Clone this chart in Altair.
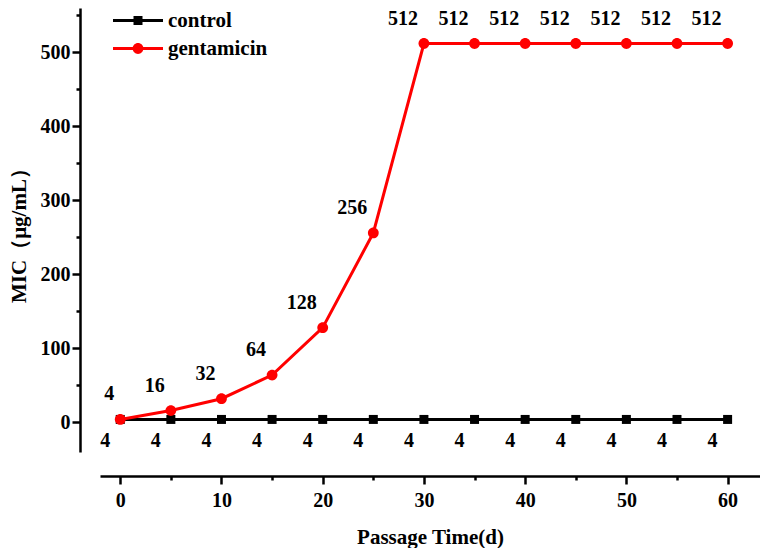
import altair as alt
import pandas as pd

# ---- data ----
days = [0, 5, 10, 15, 20, 25, 30, 35, 40, 45, 50, 55, 60]
control = [4, 4, 4, 4, 4, 4, 4, 4, 4, 4, 4, 4, 4]
gentamicin = [4, 16, 32, 64, 128, 256, 512, 512, 512, 512, 512, 512, 512]
series_names = ["control", "gentamicin"]
colors = ["#000000", "#ff0000"]
x_ticks = [0, 5, 10, 15, 20, 25, 30, 35, 40, 45, 50, 55, 60]
y_ticks = [0, 50, 100, 150, 200, 250, 300, 350, 400, 450, 500, 550]

rows = []
for d, c, g in zip(days, control, gentamicin):
    rows.append({"day": d, "mic": c, "series": "control", "series_line": "control"})
    rows.append({"day": d, "mic": g, "series": "gentamicin", "series_line": "gentamicin"})
df = pd.DataFrame(rows)

FONT = "Liberation Serif"
CIRCLE = "M1.2,0A1.2,1.2,0,1,1,-1.2,0A1.2,1.2,0,1,1,1.2,0Z"

x_enc = alt.X(
    "day:Q",
    scale=alt.Scale(domain=[-2, 63.2], nice=False, zero=False),
    axis=alt.Axis(
        values=x_ticks,
        labelExpr="datum.value % 10 == 0 ? datum.label : ''",
        offset=24,
        tickSize={"condition": {"test": "datum.value % 10 == 0", "value": 8}, "value": 4},
        labelPadding=6,
        titlePadding=16,
        title="Passage Time(d)",
        grid=False,
    ),
)
y_enc = alt.Y(
    "mic:Q",
    scale=alt.Scale(domain=[-40, 560], nice=False, zero=False),
    axis=alt.Axis(
        values=y_ticks,
        labelExpr="datum.value % 100 == 0 ? datum.label : ''",
        offset=20,
        tickSize={"condition": {"test": "datum.value % 100 == 0", "value": 8}, "value": 4},
        labelPadding=2,
        titlePadding=11,
        title="MIC（μg/mL）",
        grid=False,
    ),
)

legend_common = dict(
    orient="none",
    legendX=27.5,
    legendY=2,
    title=None,
    padding=0,
    rowPadding=6,
    labelFont=FONT,
    labelFontSize=21,
    labelFontWeight="bold",
    labelColor="#000000",
)

lines = alt.Chart(df).mark_line(strokeWidth=3).encode(
    x=x_enc,
    y=y_enc,
    stroke=alt.Stroke(
        "series_line:N",
        scale=alt.Scale(range=colors),
        legend=alt.Legend(
            symbolType="M-5,0H5",
            symbolSize=100,
            symbolStrokeWidth=3,
            labelOffset=19.5,
            **legend_common,
        ),
    ),
)

pts_legend = alt.Legend(
    symbolSize=81,
    symbolStrokeWidth=0,
    labelExpr="''",
    **legend_common,
)
points = alt.Chart(df).mark_point(filled=True, size=81, opacity=1).encode(
    x=x_enc,
    y=y_enc,
    fill=alt.Fill("series:N", scale=alt.Scale(range=colors), legend=pts_legend),
    shape=alt.Shape("series:N", scale=alt.Scale(range=["square", CIRCLE]), legend=pts_legend),
)

gen_labels = alt.Chart(df).transform_filter(
    alt.datum.series == "gentamicin"
).mark_text(
    font=FONT, fontSize=20, fontWeight="bold", align="right", baseline="middle",
    dx=-6, dy=-25, color="#000000",
).encode(x=x_enc, y=y_enc, text=alt.Text("mic:Q", format="d"))

ctl_labels = alt.Chart(df).transform_filter(
    alt.datum.series == "control"
).mark_text(
    font=FONT, fontSize=20, fontWeight="bold", align="right", baseline="middle",
    dx=-10, dy=22, color="#000000",
).encode(x=x_enc, y=y_enc, text=alt.Text("mic:Q", format="d"))

chart = alt.layer(lines, points, gen_labels, ctl_labels).properties(
    width=660,
    height=444,
    padding={"left": 0, "top": 0, "right": 0, "bottom": 1},
    background="#ffffff",
).configure_view(stroke=None).configure_axis(
    domainColor="#000000",
    domainWidth=2.5,
    tickColor="#000000",
    tickWidth=2.5,
    labelFont=FONT,
    labelFontSize=20,
    labelFontWeight="bold",
    labelColor="#000000",
    titleFont=FONT,
    titleFontSize=21,
    titleFontWeight="bold",
    titleColor="#000000",
).configure_legend(
    labelFont=FONT,
    labelFontSize=21,
    labelFontWeight="bold",
    labelColor="#000000",
)

chart.save("out.html", embed_options={"renderer": "svg", "actions": False})
